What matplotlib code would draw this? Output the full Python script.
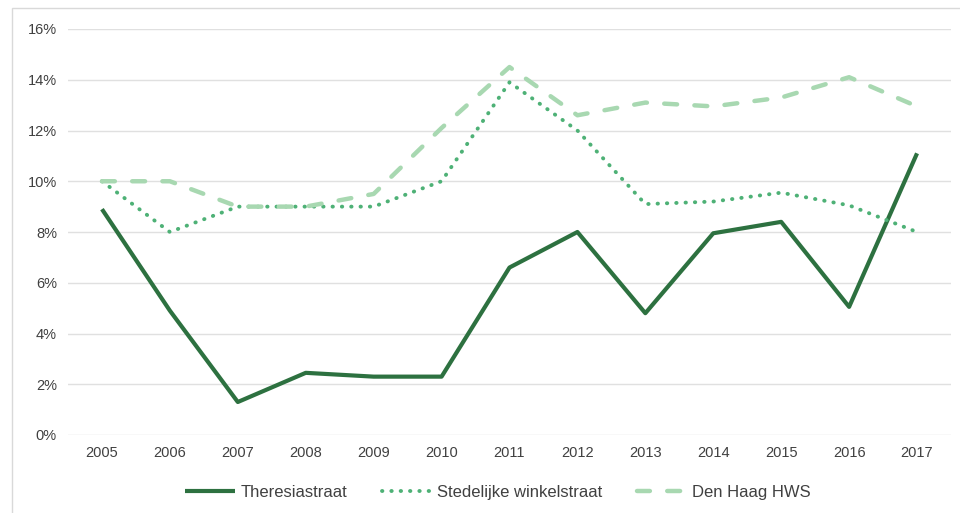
import matplotlib.pyplot as plt
from matplotlib.patches import Rectangle
from matplotlib.ticker import FuncFormatter

years = ['2005', '2006', '2007', '2008', '2009', '2010', '2011',
         '2012', '2013', '2014', '2015', '2016', '2017']
theresiastraat = [8.9, 4.9, 1.3, 2.45, 2.3, 2.3, 6.6, 8.0, 4.8, 7.95, 8.4, 5.05, 11.1]
stedelijke = [10.0, 8.0, 9.0, 9.0, 9.0, 10.0, 13.9, 12.0, 9.1, 9.2, 9.55, 9.05, 8.0]
den_haag = [10.0, 10.0, 9.0, 9.0, 9.5, 12.1, 14.5, 12.6, 13.1, 12.95, 13.3, 14.1, 12.95]

plt.rcParams['font.family'] = ['Liberation Sans', 'DejaVu Sans']

fig = plt.figure(figsize=(9.6, 5.13), dpi=100)
# light outer chart border
fig.patches.append(Rectangle((12 / 960, -0.1), 1.0, (505 / 513) + 0.1,
                             transform=fig.transFigure, fill=False,
                             edgecolor='#d9d9d9', linewidth=1.0))

ax = fig.add_axes([68 / 960, 78 / 513, 883 / 960, 406 / 513])
x = range(len(years))

ax.plot(x, theresiastraat, color='#2d7140', linewidth=3, label='Theresiastraat',
        solid_capstyle='butt')
ax.plot(x, stedelijke, color='#4eb176', linewidth=2.8, linestyle=(0, (0.1, 2.3)),
        dash_capstyle='round', label='Stedelijke winkelstraat')
ax.plot(x, den_haag, color='#a8d8b1', linewidth=3.2, linestyle=(0, (2.9, 3.9)),
        dash_capstyle='round', label='Den Haag HWS')

ax.set_xlim(-0.5, len(years) - 0.5)
ax.set_ylim(0, 16)
ax.set_yticks(range(0, 17, 2))
ax.yaxis.set_major_formatter(FuncFormatter(lambda v, p: f'{int(v)}%'))
ax.set_xticks(list(x))
ax.set_xticklabels(years)
ax.grid(axis='y', color='#e0e0e0', linewidth=1)
ax.set_axisbelow(True)
for s in ax.spines.values():
    s.set_visible(False)
ax.tick_params(length=0, labelsize=10.5, colors='#404040', pad=8)

ax.legend(loc='upper center', bbox_to_anchor=(0.487, -0.085), ncol=3, frameon=False,
          fontsize=12, handlelength=3.0, columnspacing=2.1, handletextpad=0.3,
          labelcolor='#404040')

fig.savefig('out.png', dpi=100)
